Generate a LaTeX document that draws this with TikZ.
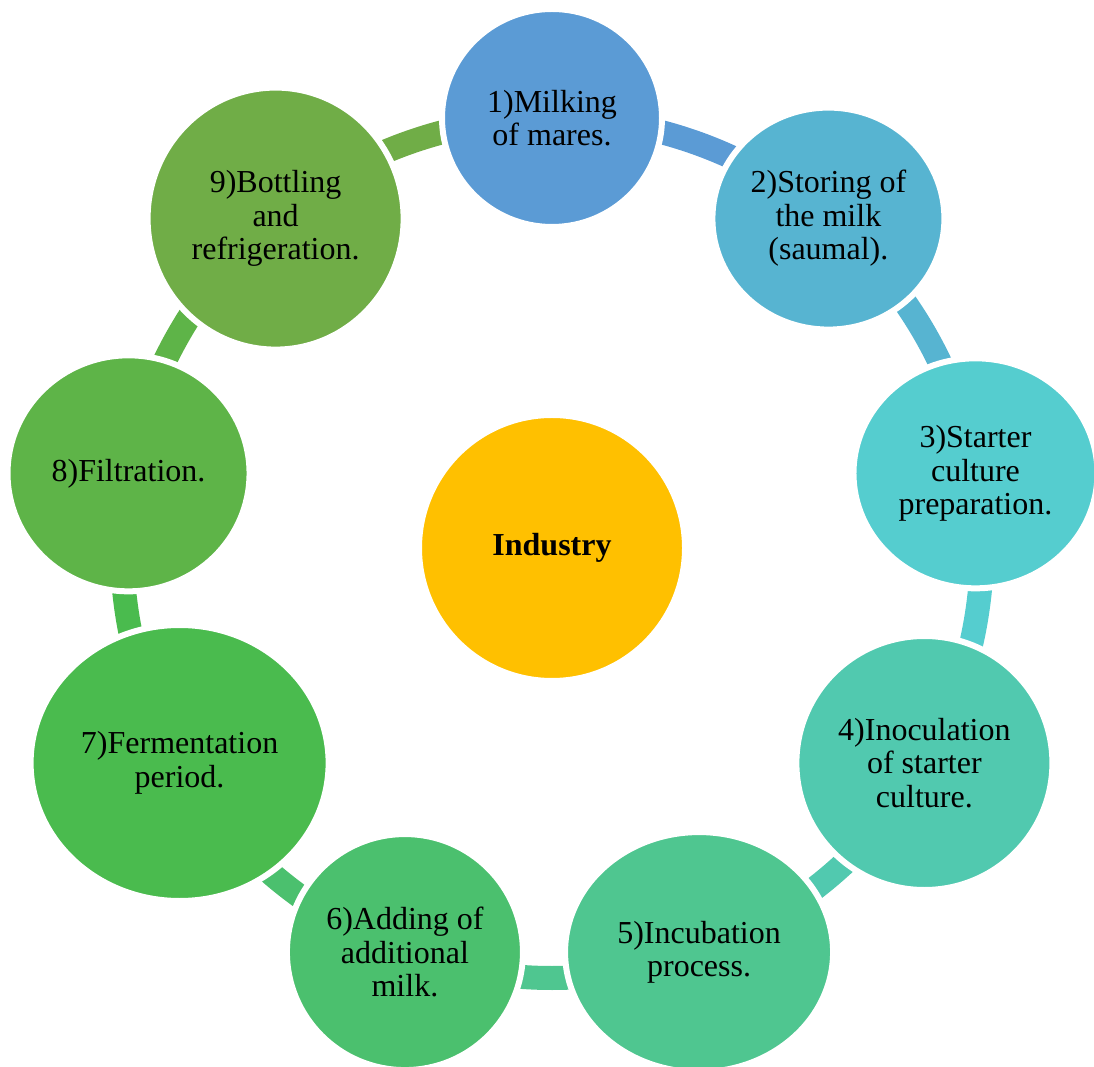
\documentclass[tikz,border=0pt]{standalone}
\usepackage{fontspec}
\setmainfont{Liberation Serif}
\usetikzlibrary{shapes.geometric}

\definecolor{c1}{RGB}{91,155,213}
\definecolor{c2}{RGB}{87,180,209}
\definecolor{c3}{RGB}{85,205,207}
\definecolor{c4}{RGB}{81,201,175}
\definecolor{c5}{RGB}{79,198,144}
\definecolor{c6}{RGB}{75,192,110}
\definecolor{c7}{RGB}{74,187,78}
\definecolor{c8}{RGB}{94,180,72}
\definecolor{c9}{RGB}{112,173,71}
\definecolor{hub}{RGB}{255,192,0}

\tikzset{
  stage/.style={ellipse, draw=white, line width=6pt, inner sep=0pt, align=center,
    font=\fontsize{32}{33.5}\selectfont},
  link/.style={line width=24pt}
}

\begin{document}
\begin{tikzpicture}[x=1pt, y=1pt]
    \useasboundingbox (0,0) rectangle (1094,1066);
    \coordinate (O) at (552,518);

    % ring pieces, each one in the colour of the step it leaves
    \foreach \i in {1,...,9}
        \draw[link, c\i] (O) ++(130-40*\i:430) arc[start angle=130-40*\i, end angle=90-40*\i, radius=430];

    % the nine steps, clockwise from the top
    \foreach \i/\w/\h/\t in {
        1/220/218/{1)Milking\\of mares.},
        2/232/222/{2)Storing of\\the milk\\(saumal).},
        3/244/230/{3)Starter\\culture\\preparation.},
        4/256/254/{4)Inoculation\\of starter\\culture.},
        5/268/240/{5)Incubation\\process.},
        6/236/236/{6)Adding of\\additional\\milk.},
        7/298/276/{7)Fermentation\\period.},
        8/242/236/{8)Filtration.},
        9/256/262/{9)Bottling\\and\\refrigeration.}}
        \path (O) ++(130-40*\i:430) node[stage, fill=c\i, minimum width=\w, minimum height=\h] (s\i) {\t};

    \node[stage, fill=hub, minimum width=266, minimum height=266] (hub) at (O) {\textbf{Industry}};
\end{tikzpicture}
\end{document}
